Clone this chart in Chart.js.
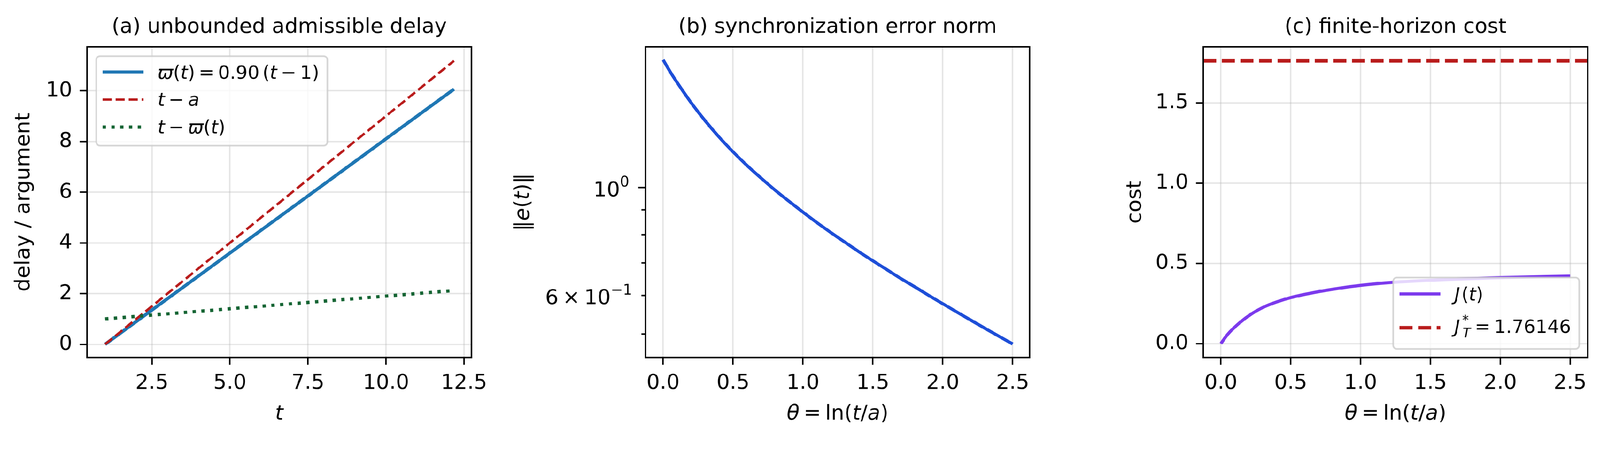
<!DOCTYPE html>
<html>
<head>
<meta charset="utf-8">
<script src="https://cdn.jsdelivr.net/npm/chart.js@4.4.1/dist/chart.umd.min.js"></script>
<style>
  html, body { margin: 0; padding: 0; background: #fff; overflow: hidden; }
  #stage { position: absolute; left: 0; top: 0; width: 4303px; height: 1181px; transform-origin: 0 0; background: #fff; }
  #stage canvas { position: absolute; top: 0; }
</style>
</head>
<body>
<div id="stage">
  <canvas id="chartA" width="1340" height="1181" style="left:0px"></canvas>
  <canvas id="chartB" width="1560" height="1181" style="left:1340px"></canvas>
  <canvas id="chartC" width="1353" height="1181" style="left:2950px"></canvas>
</div>
<script>
// ---- values ----

// (a) delay and argument against t
const tValues = [1, 2.5, 5, 7.5, 10, 12.18];
const delayValues = [0, 1.35, 3.6, 5.85, 8.1, 10.06];     // varpi(t)
const tMinusA = [0, 1.5, 4, 6.5, 9, 11.18];               // t - a
const argValues = [1, 1.15, 1.4, 1.65, 1.9, 2.12];        // t - varpi(t)

// (b) synchronization error norm (log axis)
const thetaB = [0, 0.05, 0.1, 0.2, 0.3, 0.4, 0.5, 0.6, 0.7, 0.8, 0.9, 1.0, 1.1, 1.2, 1.3, 1.4,
                1.5, 1.6, 1.7, 1.8, 1.9, 2.0, 2.1, 2.2, 2.3, 2.4, 2.5];
const errorNorm = [1.83, 1.73, 1.644, 1.494, 1.372, 1.27, 1.184, 1.11, 1.046, 0.988, 0.937, 0.89, 0.847, 0.808,
                   0.772, 0.738, 0.707, 0.678, 0.65, 0.625, 0.6, 0.577, 0.555, 0.534, 0.514, 0.495, 0.477];

// (c) finite-horizon cost
const thetaC = [0, 0.049, 0.137, 0.224, 0.312, 0.4, 0.5, 0.663, 0.839, 1.0, 1.233, 1.5, 2.0, 2.5];
const costValues = [0, 0.058, 0.132, 0.188, 0.23, 0.26, 0.287, 0.318, 0.344, 0.363, 0.382, 0.395, 0.411, 0.421];
const costBound = 1.76146;

// ticks
const xTicksA = [2.5, 5, 7.5, 10, 12.5];
const xTickLabelsA = ['2.5', '5.0', '7.5', '10.0', '12.5'];
const yTicksA = [0, 2, 4, 6, 8, 10];
const yTickLabelsA = ['0', '2', '4', '6', '8', '10'];
const thetaTicks = [0, 0.5, 1, 1.5, 2, 2.5];
const thetaTickLabels = ['0.0', '0.5', '1.0', '1.5', '2.0', '2.5'];
const yTicksB = [0.5, 0.6, 0.7, 0.8, 0.9, 1];     // only 1 is a major tick
const yLabelValuesB = [0.6, 1];
const yTicksC = [0, 0.5, 1, 1.5];
const yTickLabelsC = ['0.0', '0.5', '1.0', '1.5'];

// fit the 4303x1181 drawing into whatever CSS viewport the window gives
const SCALE = Math.min(window.innerWidth / 4303, window.innerHeight / 1181) || 1;
document.getElementById('stage').style.transform = 'scale(' + SCALE + ')';

// ---- text helpers (mathtext-like runs) ----
const FONT = '"DejaVu Sans", sans-serif';
const R = t => ({ t });
const I = t => ({ t, it: true });
const G = em => ({ g: em });
const SUP = t => ({ sup: t });
const SCR = (sup, sub) => ({ sup, sub, subIt: true });

const yLabelRunsB = [
  [R('6'), G(0.2), R('×'), G(0.2), R('10'), SUP('−1')],
  [R('10'), SUP('0')]
];
const legendRunsA = [
  [I('ϖ'), R('('), I('t'), R(')'), G(0.2), R('='), G(0.2), R('0.90'), G(0.167), R('('), I('t'), G(0.2), R('−'), G(0.2), R('1'), R(')')],
  [I('t'), G(0.2), R('−'), G(0.2), I('a')],
  [I('t'), G(0.2), R('−'), G(0.2), I('ϖ'), R('('), I('t'), R(')')]
];
const legendRunsC = [
  [I('J'), G(0.08), R('('), I('t'), R(')')],
  [I('J'), G(0.12), SCR('*', 'T'), G(0.2), R('='), G(0.2), R('1.76146')]
];
const thetaLabel = [I('θ'), G(0.2), R('='), G(0.2), R('ln'), R('('), I('t'), R('/'), I('a'), R(')')];

function fontStr(it, size) { return (it ? 'italic ' : '') + size + 'px ' + FONT; }

function runAdvance(ctx, r, size) {
  if (r.g !== undefined) return r.g * size;
  if (r.t !== undefined) { ctx.font = fontStr(r.it, size); return ctx.measureText(r.t).width; }
  const s = size * 0.7;
  let w = 0;
  if (r.sup) { ctx.font = fontStr(false, s); w = Math.max(w, ctx.measureText(r.sup).width); }
  if (r.sub) { ctx.font = fontStr(r.subIt, s); w = Math.max(w, ctx.measureText(r.sub).width); }
  return w + 0.05 * size;
}

function richWidth(ctx, runs, size) {
  return runs.reduce((w, r) => w + runAdvance(ctx, r, size), 0);
}

function drawRich(ctx, runs, x, y, size, align) {
  const w = richWidth(ctx, runs, size);
  let cx = align === 'center' ? x - w / 2 : align === 'right' ? x - w : x;
  ctx.textAlign = 'left';
  ctx.textBaseline = 'alphabetic';
  ctx.fillStyle = '#000';
  for (const r of runs) {
    if (r.t !== undefined) {
      ctx.font = fontStr(r.it, size);
      ctx.fillText(r.t, cx, y);
    } else if (r.g === undefined) {
      const s = size * 0.7;
      if (r.sup) { ctx.font = fontStr(false, s); ctx.fillText(r.sup, cx, y - 0.45 * size); }
      if (r.sub) { ctx.font = fontStr(r.subIt, s); ctx.fillText(r.sub, cx + 0.02 * size, y + 0.24 * size); }
    }
    cx += runAdvance(ctx, r, size);
  }
}

// ---- shared look ----
const GRID = 'rgba(176,176,176,0.32)';
const TICK_LEN = 19.5;
const TICK_FONT = { family: FONT, size: 56 };
const PLOT_BOTTOM = 962;

function gridOpts(extra) {
  return Object.assign({ color: GRID, lineWidth: 4, drawTicks: true, tickLength: TICK_LEN, tickColor: '#000', tickWidth: 4 }, extra);
}

function xAxis(min, max, values, labels) {
  return {
    type: 'linear', position: 'bottom', min, max,
    afterBuildTicks: s => { s.ticks = values.map(v => ({ value: v })); },
    afterFit: s => { s.height = 1181 - PLOT_BOTTOM; },
    grid: gridOpts(), border: { display: false },
    ticks: { autoSkip: false, maxRotation: 0, color: '#000', font: TICK_FONT, padding: 16, callback: (v, i) => labels[i] }
  };
}

function yAxis(type, min, max, values, labels, width) {
  return {
    type, position: 'left', min, max,
    afterBuildTicks: s => { s.ticks = values.map(v => ({ value: v })); },
    afterFit: s => { s.width = width; },
    grid: gridOpts(), border: { display: false },
    ticks: { autoSkip: false, color: '#000', font: TICK_FONT, padding: 20, callback: (v, i) => labels[i] }
  };
}

function lineSet(xs, ys, color, width, dash, order, smooth) {
  return {
    data: xs.map((x, i) => ({ x, y: ys[i] })),
    borderColor: color, borderWidth: width, borderDash: dash || [],
    borderCapStyle: 'butt', borderJoinStyle: 'round',
    pointRadius: 0, fill: false, order,
    cubicInterpolationMode: smooth ? 'monotone' : 'default', tension: 0
  };
}

function drawLegend(chart, lg) {
  const { ctx, chartArea: a } = chart;
  const size = lg.size;
  const textW = Math.max(...lg.runs.map(r => richWidth(ctx, r, size)));
  const w = 17 + 110 + 38 + textW + 22;
  const h = lg.height;
  let left, top;
  if (lg.loc === 'upper left') { left = a.left + 25; top = a.top + 25; }
  else { left = a.right - 23 - w; top = a.bottom - 23 - h; }
  ctx.save();
  ctx.beginPath();
  ctx.roundRect(left, top, w, h, 10);
  ctx.fillStyle = 'rgba(255,255,255,0.8)';
  ctx.fill();
  ctx.lineWidth = 4.4;
  ctx.strokeStyle = 'rgba(204,204,204,0.8)';
  ctx.stroke();
  lg.runs.forEach((runs, i) => {
    const ds = chart.data.datasets[lg.sets[i]];
    const y = top + lg.rowY[i];
    ctx.save();
    ctx.strokeStyle = ds.borderColor;
    ctx.lineWidth = ds.borderWidth;
    ctx.setLineDash(ds.borderDash || []);
    ctx.lineCap = 'butt';
    ctx.beginPath();
    ctx.moveTo(left + 17, y);
    ctx.lineTo(left + 17 + 110, y);
    ctx.stroke();
    ctx.restore();
    drawRich(ctx, runs, left + 17 + 110 + 38, y + lg.base[i], size, 'left');
  });
  ctx.restore();
}

function makeDecor(cfg) {
  return {
    id: 'decor',
    afterDatasetsDraw(chart) {
      const { ctx, chartArea: a } = chart;
      ctx.save();
      ctx.strokeStyle = '#000';
      ctx.lineWidth = 4;
      ctx.setLineDash([]);
      ctx.strokeRect(a.left, a.top, a.right - a.left, a.bottom - a.top);
      ctx.restore();
      if (cfg.legend) drawLegend(chart, cfg.legend);
    },
    afterDraw(chart) {
      const { ctx, chartArea: a } = chart;
      const cx = (a.left + a.right) / 2, cy = (a.top + a.bottom) / 2;
      ctx.save();
      ctx.fillStyle = '#000';
      ctx.font = '56px ' + FONT;
      ctx.textAlign = 'center';
      ctx.textBaseline = 'alphabetic';
      ctx.fillText(cfg.title, cx, 88);
      drawRich(ctx, cfg.xLabel, cx, 1129, 56, 'center');
      ctx.translate(cfg.yLabelX, cy);
      ctx.rotate(-Math.PI / 2);
      drawRich(ctx, cfg.yLabel, 0, 0, 56, 'center');
      ctx.restore();
      if (cfg.logTicks) cfg.logTicks(chart);
    }
  };
}

// minor/major ticks and 10^k labels of the log axis in (b)
function logTicksB(chart) {
  const { ctx, chartArea: a } = chart;
  const s = chart.scales.y;
  ctx.save();
  ctx.strokeStyle = '#000';
  ctx.lineWidth = 4;
  yTicksB.forEach(v => {
    const y = s.getPixelForValue(v);
    ctx.beginPath();
    ctx.moveTo(a.left, y);
    ctx.lineTo(a.left - (v === 1 ? TICK_LEN : 11), y);
    ctx.stroke();
  });
  yLabelValuesB.forEach((v, i) => {
    const y = s.getPixelForValue(v);
    drawRich(ctx, yLabelRunsB[i], a.left - (v === 1 ? 41 : 33), y + 23, 56, 'right');
  });
  ctx.restore();
}

function makeChart(id, cfg) {
  return new Chart(document.getElementById(id), {
    type: 'line',
    data: { datasets: cfg.datasets },
    options: {
      responsive: false, animation: false, devicePixelRatio: 1, events: [],
      layout: { padding: { top: 126, left: 0, right: cfg.padRight, bottom: 0 } },
      plugins: { legend: { display: false }, tooltip: { enabled: false }, title: { display: false } },
      scales: { x: cfg.x, y: cfg.y }
    },
    plugins: [makeDecor(cfg)]
  });
}

// (a)
makeChart('chartA', {
  padRight: 72,
  title: '(a) unbounded admissible delay',
  xLabel: [I('t')],
  yLabel: [R('delay / argument')],
  yLabelX: 79,
  x: xAxis(0.42, 12.74, xTicksA, xTickLabelsA),
  y: yAxis('linear', -0.52, 11.73, yTicksA, yTickLabelsA, 234),
  datasets: [
    lineSet(tValues, delayValues, '#1f77b4', 9, [], 3),
    lineSet(tValues, tMinusA, '#b91c1c', 6.5, [24.5, 10.5], 2),
    lineSet(tValues, argValues, '#166534', 8.9, [8.9, 14.7], 1)
  ],
  legend: { loc: 'upper left', size: 50, height: 241, rowY: [43, 117, 191], base: [18, 17, 17], sets: [0, 1, 2], runs: legendRunsA }
});

// (b)
const yB = yAxis('logarithmic', 0.4475, 1.946, yTicksB, [], 396);
yB.ticks.display = false;
yB.grid = gridOpts({ drawTicks: false, color: c => (c.tick && c.tick.value === 1) ? GRID : 'rgba(0,0,0,0)' });
makeChart('chartB', {
  padRight: 131,
  title: '(b) synchronization error norm',
  xLabel: thetaLabel,
  yLabel: [R('‖'), I('e'), R('('), I('t'), R(')'), R('‖')],
  yLabelX: 82,
  x: xAxis(-0.126, 2.621, thetaTicks, thetaTickLabels),
  y: yB,
  datasets: [
    lineSet(thetaB, errorNorm, '#1d4ed8', 8.5, [], 1, true)
  ],
  logTicks: logTicksB
});

// (c)
makeChart('chartC', {
  padRight: 33,
  title: '(c) finite-horizon cost',
  xLabel: thetaLabel,
  yLabel: [R('cost')],
  yLabelX: 118,
  x: xAxis(-0.126, 2.626, thetaTicks, thetaTickLabels),
  y: yAxis('linear', -0.086, 1.849, yTicksC, yTickLabelsC, 286),
  datasets: [
    lineSet(thetaC, costValues, '#7c3aed', 8.5, [], 1, true),
    lineSet([-0.126, 2.626], [costBound, costBound], '#b91c1c', 9.4, [35, 15], 2)
  ],
  legend: { loc: 'lower right', size: 50, height: 192, rowY: [44, 135], base: [18, 13.5], sets: [0, 1], runs: legendRunsC }
});
</script>
</body>
</html>
